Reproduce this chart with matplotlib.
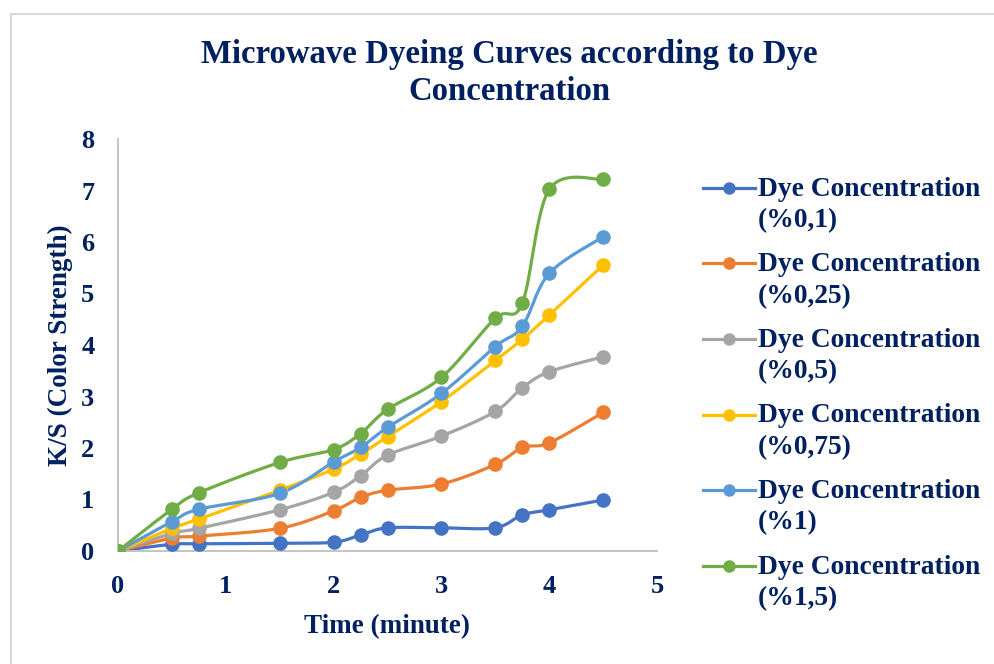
import numpy as np
import matplotlib
matplotlib.use("Agg")
import matplotlib.pyplot as plt
from matplotlib.lines import Line2D

# data
time_min = [0, 0.5, 0.75, 1.5, 2, 2.25, 2.5, 3, 3.5, 3.75, 4, 4.5]
dye_01 = [0, 0.13, 0.14, 0.15, 0.17, 0.31, 0.45, 0.45, 0.45, 0.70, 0.80, 0.99]
dye_025 = [0, 0.25, 0.29, 0.44, 0.78, 1.04, 1.18, 1.30, 1.68, 2.01, 2.10, 2.69]
dye_05 = [0, 0.34, 0.44, 0.80, 1.14, 1.46, 1.86, 2.23, 2.71, 3.17, 3.48, 3.77]
dye_075 = [0, 0.44, 0.62, 1.18, 1.59, 1.88, 2.22, 2.90, 3.70, 4.11, 4.58, 5.55]
dye_1 = [0, 0.57, 0.81, 1.12, 1.73, 2.01, 2.40, 3.06, 3.97, 4.36, 5.39, 6.10]
dye_15 = [0, 0.81, 1.13, 1.72, 1.97, 2.28, 2.75, 3.37, 4.52, 4.81, 7.02, 7.22]

labels = ["Dye Concentration\n(%0,1)", "Dye Concentration\n(%0,25)",
          "Dye Concentration\n(%0,5)", "Dye Concentration\n(%0,75)",
          "Dye Concentration\n(%1)", "Dye Concentration\n(%1,5)"]
colors = ["#4472C4", "#ED7D31", "#A5A5A5", "#FFC000", "#5B9BD5", "#70AD47"]
series = [dye_01, dye_025, dye_05, dye_075, dye_1, dye_15]

navy = "#002060"
font = "Liberation Serif"


def smooth(x, y, n=30):
    # Excel-like smoothed line: cubic bezier with catmull-rom control points
    x = np.asarray(x, float)
    y = np.asarray(y, float)
    xs, ys = [], []
    t = np.linspace(0, 1, n)
    for i in range(len(x) - 1):
        p0 = np.array([x[max(i - 1, 0)], y[max(i - 1, 0)]])
        p1 = np.array([x[i], y[i]])
        p2 = np.array([x[i + 1], y[i + 1]])
        p3 = np.array([x[min(i + 2, len(x) - 1)], y[min(i + 2, len(x) - 1)]])
        c1 = p1 + (p2 - p0) / 6
        c2 = p2 - (p3 - p1) / 6
        pts = ((1 - t) ** 3)[:, None] * p1 + (3 * (1 - t) ** 2 * t)[:, None] * c1 \
            + (3 * (1 - t) * t ** 2)[:, None] * c2 + (t ** 3)[:, None] * p2
        xs.extend(pts[:, 0])
        ys.extend(pts[:, 1])
    return xs, ys


W, H = 994, 664
fig = plt.figure(figsize=(W / 100, H / 100), dpi=100)
ax = fig.add_axes([118 / W, 1 - 551 / H, (657 - 118) / W, (551 - 139) / H])

for ys, c in zip(series, colors):
    sx, sy = smooth(time_min, ys)
    ax.plot(sx, sy, color=c, lw=2.3, solid_capstyle="round", zorder=2)
    ax.plot(time_min, ys, "o", color=c, ms=9.5, zorder=3)

ax.set_xlim(0, 5)
ax.set_ylim(0, 8)
ax.set_xticks(range(0, 6))
ax.set_yticks(range(0, 9))
for s in ["top", "right"]:
    ax.spines[s].set_visible(False)
for s in ["left", "bottom"]:
    ax.spines[s].set_color("#BFBFBF")
    ax.spines[s].set_linewidth(1.3)
ax.tick_params(length=0)
for lab in ax.get_xticklabels() + ax.get_yticklabels():
    lab.set_fontfamily(font)
    lab.set_fontweight("bold")
    lab.set_fontsize(19)
    lab.set_color(navy)
ax.tick_params(axis="x", pad=17)
ax.tick_params(axis="y", pad=17)

ax.set_xlabel("Time (minute)", fontfamily=font, fontweight="bold",
              fontsize=19.5, color=navy, labelpad=12)
ax.set_ylabel("K/S (Color Strength)", fontfamily=font, fontweight="bold",
              fontsize=19.5, color=navy, labelpad=6)

title_lines = ["Microwave Dyeing Curves according to Dye", "Concentration"]
for line, ypx in zip(title_lines, [54, 92]):
    fig.text(509 / W, 1 - ypx / H, line, ha="center", va="center",
             fontfamily=font, fontweight="bold", fontsize=23.6, color=navy)

# legend drawn by hand so the handle lines up with the first text line
for i, (lab, c) in enumerate(zip(labels, colors)):
    yc = 1 - (188 + 75.5 * i) / H
    fig.add_artist(Line2D([703 / W, 755 / W], [yc, yc], color=c, lw=2.3))
    fig.add_artist(Line2D([729 / W], [yc], marker="o", color=c, ms=8))
    fig.text(758 / W, yc + 11 / H, lab, ha="left", va="top", fontfamily=font,
             fontweight="bold", fontsize=19.8, color=navy, linespacing=1.33)

# outer chart frame
fig.add_artist(Line2D([10.5 / W, 1], [1 - 13.5 / H, 1 - 13.5 / H], color="#D9D9D9", lw=1.5))
fig.add_artist(Line2D([10.5 / W, 10.5 / W], [0, 1 - 13.5 / H], color="#D9D9D9", lw=1.5))

fig.savefig("out.png", dpi=100)
